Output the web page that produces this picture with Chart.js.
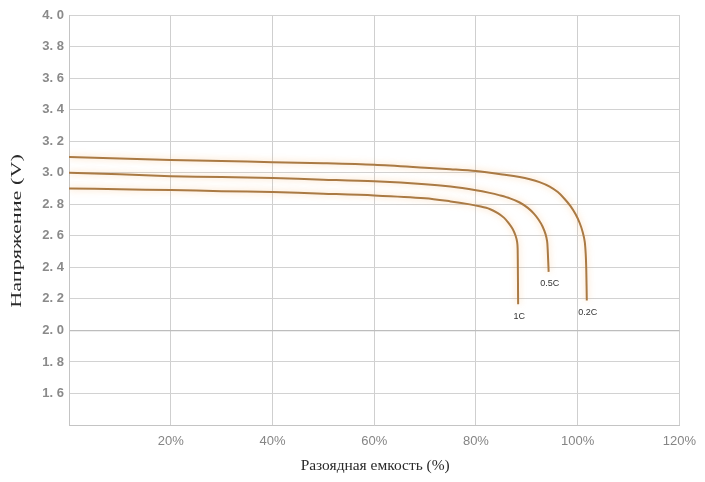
<!DOCTYPE html>
<html>
<head>
<meta charset="utf-8">
<script src="https://cdn.jsdelivr.net/npm/chart.js@4.4.1/dist/chart.umd.min.js"></script>
<style>
  html, body { margin: 0; padding: 0; background: #fff; }
  #wrap { width: 705px; height: 482px; }
</style>
</head>
<body>
<div id="wrap"><canvas id="c" width="705" height="482"></canvas></div>
<script>
// Discharge curves: capacity (%) vs voltage (V) at three discharge rates
const rateLabels = ['0.2C', '0.5C', '1C'];

const capacity02 = [0, 10, 20, 30, 40, 50, 60, 70, 75, 80, 86, 88.6, 90.6, 92.5, 94.5, 96.1, 97.4, 98.6, 99.6, 100.4, 101.0, 101.4, 101.6, 101.7, 101.8];
const voltage02  = [3.10, 3.09, 3.08, 3.074, 3.067, 3.06, 3.05, 3.032, 3.022, 3.01, 2.985, 2.972, 2.958, 2.940, 2.912, 2.877, 2.835, 2.788, 2.736, 2.681, 2.623, 2.562, 2.476, 2.38, 2.19];

const capacity05 = [0, 10, 20, 30, 40, 50, 60, 70, 75, 80, 82.7, 84.7, 86.7, 88.6, 90.2, 91.35, 92.3, 93.1, 93.7, 94.0, 94.1, 94.2, 94.3];
const voltage05  = [3.00, 2.99, 2.978, 2.972, 2.966, 2.956, 2.945, 2.927, 2.912, 2.889, 2.872, 2.856, 2.837, 2.811, 2.777, 2.742, 2.703, 2.659, 2.609, 2.565, 2.52, 2.447, 2.371];

const capacity1 = [0, 10, 20, 30, 40, 50, 60, 70, 75, 78.8, 80.7, 82.7, 84.3, 85.5, 86.4, 87.2, 87.8, 88.1, 88.2, 88.25, 88.3];
const voltage1  = [2.90, 2.895, 2.89, 2.883, 2.877, 2.867, 2.856, 2.838, 2.818, 2.799, 2.787, 2.77, 2.744, 2.715, 2.682, 2.644, 2.60, 2.561, 2.52, 2.38, 2.166];

const yTickMin = 1.4, yTickMax = 4.0, yTickStep = 0.2;
const xTickMin = 0, xTickMax = 120, xTickStep = 20;

const xTitle = 'Разоядная емкость (%)';
const yTitle = 'Напряжение (V)';

function toPoints(xs, ys) { return xs.map((x, i) => ({ x: x, y: ys[i] })); }

const lineColor = '#aa7a44';

// soft orange glow behind each curve
const glowPlugin = {
  id: 'glow',
  beforeDatasetDraw(chart) {
    const ctx = chart.ctx;
    ctx.save();
    ctx.shadowColor = 'rgba(248,180,105,0.6)';
    ctx.shadowBlur = 6;
  },
  afterDatasetDraw(chart) { chart.ctx.restore(); }
};

// rate label under the end of each curve
const endLabelPlugin = {
  id: 'endLabels',
  afterDatasetsDraw(chart) {
    const ctx = chart.ctx;
    ctx.save();
    ctx.font = '9px "Liberation Sans", Arial, sans-serif';
    ctx.fillStyle = '#333';
    ctx.textAlign = 'center';
    ctx.textBaseline = 'middle';
    chart.data.datasets.forEach((ds, i) => {
      const meta = chart.getDatasetMeta(i);
      const last = meta.data[meta.data.length - 1];
      ctx.fillText(ds.label, last.x + 1, last.y + 12);
    });
    ctx.restore();
  }
};

// axis titles in a wide serif face
const axisTitlePlugin = {
  id: 'axisTitles',
  afterDraw(chart) {
    const ctx = chart.ctx;
    const area = chart.chartArea;
    ctx.save();
    ctx.fillStyle = '#2a2a2a';
    ctx.textAlign = 'center';
    ctx.textBaseline = 'middle';

    ctx.font = '15px "Liberation Serif", "Times New Roman", serif';
    ctx.save();
    ctx.translate((area.left + area.right) / 2 + 1, 466);
    ctx.scale(1.03, 1);
    ctx.fillText(xTitle, 0, 0);
    ctx.restore();

    ctx.save();
    ctx.translate(17, 231);
    ctx.rotate(-Math.PI / 2);
    ctx.scale(1.48, 1);
    ctx.fillText(yTitle, 0, 0);
    ctx.restore();

    ctx.restore();
  }
};

const mkDataset = (label, xs, ys) => ({
  label: label,
  data: toPoints(xs, ys),
  borderColor: lineColor,
  borderWidth: 2,
  pointRadius: 0,
  fill: false,
  tension: 0.3
});

const isTwo = ctx => ctx.tick && Math.abs(ctx.tick.value - 2.0) < 1e-6;

new Chart(document.getElementById('c'), {
  type: 'line',
  data: {
    datasets: [
      mkDataset(rateLabels[0], capacity02, voltage02),
      mkDataset(rateLabels[1], capacity05, voltage05),
      mkDataset(rateLabels[2], capacity1, voltage1)
    ]
  },
  plugins: [glowPlugin, endLabelPlugin, axisTitlePlugin],
  options: {
    responsive: false,
    animation: false,
    devicePixelRatio: 1,
    layout: { padding: { top: 15, right: 25, left: 0, bottom: 0 } },
    plugins: { legend: { display: false }, tooltip: { enabled: false } },
    scales: {
      x: {
        type: 'linear',
        min: xTickMin, max: xTickMax,
        afterFit(scale) { scale.height = 57; },
        border: { display: true, color: '#c4c4c4', width: 1 },
        grid: { color: '#cfcfcf', lineWidth: 1, drawTicks: false },
        ticks: {
          stepSize: xTickStep,
          padding: 9,
          color: '#858585',
          font: { family: '"Liberation Sans", Arial, sans-serif', size: 13 },
          callback: v => v === 0 ? '' : v + '%',
          maxRotation: 0
        }
      },
      y: {
        type: 'linear',
        min: yTickMin, max: yTickMax,
        afterFit(scale) { scale.width = 69; },
        border: { display: true, color: '#c4c4c4', width: 1 },
        grid: {
          color: ctx => isTwo(ctx) ? '#bdbdbd' : '#d2d2d2',
          lineWidth: ctx => isTwo(ctx) ? 1.3 : 1,
          drawTicks: false
        },
        ticks: {
          stepSize: yTickStep,
          padding: 5,
          color: '#8a8a8a',
          font: { family: '"Liberation Sans", Arial, sans-serif', size: 13, weight: 'bold' },
          callback: v => Math.abs(v - yTickMin) < 1e-6 ? '' : v.toFixed(1).replace('.', '. ')
        }
      }
    }
  }
});
</script>
</body>
</html>
